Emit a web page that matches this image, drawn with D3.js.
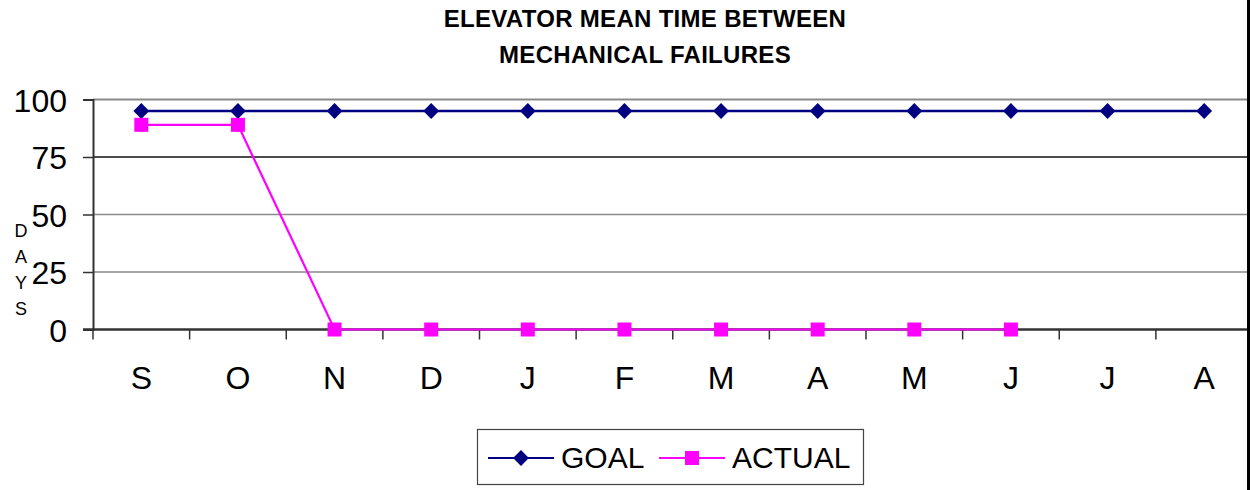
<!DOCTYPE html>
<html>
<head>
<meta charset="utf-8">
<script src="https://cdn.jsdelivr.net/npm/d3@7"></script>
<style>
  html, body { margin: 0; padding: 0; background: #fff; }
  svg { display: block; font-family: Arial, "Liberation Sans", sans-serif; }
</style>
</head>
<body>
<svg id="chart" width="1250" height="490"></svg>
<script>
// Monthly categories (fiscal year September → August)
const months = ["S", "O", "N", "D", "J", "F", "M", "A", "M", "J", "J", "A"];
// Target mean time between failures, days
const goalValues = [95, 95, 95, 95, 95, 95, 95, 95, 95, 95, 95, 95];
// Recorded mean time between failures, days (reported through June)
const actualValues = [89, 89, 0, 0, 0, 0, 0, 0, 0, 0];
const yTicks = [0, 25, 50, 75, 100];
const titleLines = ["ELEVATOR MEAN TIME BETWEEN", "MECHANICAL FAILURES"];
const axisLetters = ["D", "A", "Y", "S"];
const seriesNames = ["GOAL", "ACTUAL"];

const svg = d3.select("#chart");
const plot = { left: 93, right: 1252.5, top: 99.5, bottom: 329.5 };

const x = d3.scaleBand()
  .domain(d3.range(months.length))
  .range([plot.left, plot.right])
  .paddingInner(0).paddingOuter(0);
const y = d3.scaleLinear().domain([0, 100]).range([plot.bottom, plot.top]);
const cx = i => x(i) + x.bandwidth() / 2;

// Title
svg.append("g").selectAll("text")
  .data(titleLines)
  .join("text")
  .attr("x", 645)
  .attr("y", (d, i) => 27 + i * 36)
  .attr("text-anchor", "middle")
  .attr("font-size", 24)
  .attr("font-weight", "bold")
  .attr("letter-spacing", 0.3)
  .text(d => d);

// Horizontal gridlines
const gridColor = v => (v === 75 ? "#111" : "#8a8a8a");
svg.append("g").selectAll("line")
  .data(yTicks.filter(v => v > 0))
  .join("line")
  .attr("x1", plot.left).attr("x2", 1248)
  .attr("y1", v => y(v)).attr("y2", v => y(v))
  .attr("stroke", gridColor)
  .attr("stroke-width", v => (v === 100 ? 2 : 1.5));

// Y axis
const yAxis = svg.append("g")
  .attr("transform", `translate(${plot.left},0)`)
  .call(d3.axisLeft(y).tickValues(yTicks).tickSize(10).tickPadding(16));
yAxis.select(".domain").attr("stroke", "#333").attr("stroke-width", 2);
yAxis.selectAll(".tick line").attr("stroke", "#333").attr("stroke-width", 1.5);
yAxis.selectAll(".tick text")
  .attr("font-size", 32)
  .attr("font-family", "Arial, 'Liberation Sans', sans-serif")
  .attr("fill", "#000")
  .attr("dy", "0.36em");

// X axis with ticks between categories
const xAxis = svg.append("g")
  .attr("transform", `translate(0,${plot.bottom})`);
xAxis.append("line")
  .attr("x1", plot.left - 10).attr("x2", 1248)
  .attr("y1", 0).attr("y2", 0)
  .attr("stroke", "#333").attr("stroke-width", 2.5);
xAxis.selectAll("line.tick")
  .data(d3.range(months.length))
  .join("line")
  .attr("class", "tick")
  .attr("x1", i => x(i)).attr("x2", i => x(i))
  .attr("y1", 0).attr("y2", 10)
  .attr("stroke", "#333").attr("stroke-width", 1.5);
xAxis.selectAll("text")
  .data(months)
  .join("text")
  .attr("x", (d, i) => cx(i))
  .attr("y", 59)
  .attr("text-anchor", "middle")
  .attr("font-size", 32)
  .text(d => d);

// Vertical axis title, letters stacked
svg.append("g").selectAll("text")
  .data(axisLetters)
  .join("text")
  .attr("x", 21)
  .attr("y", (d, i) => 237 + i * 26)
  .attr("text-anchor", "middle")
  .attr("font-size", 18)
  .text(d => d);

// Series lines
const line = d3.line().x((d, i) => cx(i)).y(d => y(d));
svg.append("path")
  .datum(goalValues)
  .attr("d", line)
  .attr("fill", "none")
  .attr("stroke", "#000080")
  .attr("stroke-width", 2.6);
svg.append("path")
  .datum(actualValues)
  .attr("d", line)
  .attr("fill", "none")
  .attr("stroke", "#ff00ff")
  .attr("stroke-width", 2.2);

// Markers
const diamondPath = d3.symbol().type(d3.symbolSquare).size(125);
svg.append("g").selectAll("path")
  .data(goalValues)
  .join("path")
  .attr("transform", (d, i) => `translate(${cx(i)},${y(d)}) rotate(45)`)
  .attr("d", diamondPath)
  .attr("fill", "#000080");
svg.append("g").selectAll("rect")
  .data(actualValues)
  .join("rect")
  .attr("x", (d, i) => cx(i) - 7)
  .attr("y", d => y(d) - 7)
  .attr("width", 14).attr("height", 14)
  .attr("fill", "#ff00ff");

// Chart border on the right
svg.append("line")
  .attr("x1", 1248.5).attr("x2", 1248.5)
  .attr("y1", 0).attr("y2", 490)
  .attr("stroke", "#000").attr("stroke-width", 3);

// Legend
const legend = svg.append("g");
legend.append("rect")
  .attr("x", 477.5).attr("y", 429.5)
  .attr("width", 386).attr("height", 55)
  .attr("fill", "#fff").attr("stroke", "#444").attr("stroke-width", 1.2);
const legendItems = [
  { name: seriesNames[0], color: "#000080", x0: 488, tx: 561, marker: "diamond" },
  { name: seriesNames[1], color: "#ff00ff", x0: 659, tx: 732, marker: "square" }
];
legendItems.forEach(it => {
  const ly = 458;
  legend.append("line")
    .attr("x1", it.x0).attr("x2", it.x0 + 66)
    .attr("y1", ly).attr("y2", ly)
    .attr("stroke", it.color).attr("stroke-width", 2.2);
  if (it.marker === "diamond") {
    legend.append("path")
      .attr("transform", `translate(${it.x0 + 33},${ly}) rotate(45)`)
      .attr("d", diamondPath)
      .attr("fill", it.color);
  } else {
    legend.append("rect")
      .attr("x", it.x0 + 33 - 7).attr("y", ly - 7)
      .attr("width", 14).attr("height", 14)
      .attr("fill", it.color);
  }
  legend.append("text")
    .attr("x", it.tx).attr("y", ly + 10)
    .attr("font-size", 30)
    .text(it.name);
});
</script>
</body>
</html>
